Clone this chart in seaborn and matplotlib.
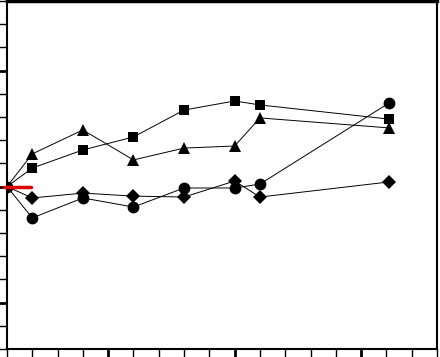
import matplotlib
matplotlib.use("Agg")
import matplotlib.pyplot as plt
import seaborn as sns
import pandas as pd

x_pos = [0, 1, 3, 5, 7, 9, 10, 15.1]
square = [7.0, 7.80, 8.58, 9.14, 10.30, 10.69, 10.52, 9.91]
triangle = [7.0, 8.41, 9.44, 8.15, 8.66, 8.75, 9.96, 9.53]
circle = [7.0, 5.65, 6.51, 6.12, 6.94, 6.94, 7.11, 10.60]
diamond = [7.0, 6.51, 6.72, 6.59, 6.55, 7.24, 6.55, 7.20]
red_x = [-0.1, 0.95]
red_y = [7.0, 7.0]

sns.set_style("ticks")
fig = plt.figure(figsize=(4.4, 3.57), dpi=100)
ax = fig.add_axes([7/440, 8/357, 430/440, 348/357])

series = [
    ("square", square, "s", 7.5),
    ("triangle", triangle, "^", 9),
    ("diamond", diamond, "D", 7),
    ("circle", circle, "o", 8.5),
]
for name, vals, mk, ms in series:
    df = pd.DataFrame({"x": x_pos, "y": vals})
    me = None if name == "circle" else list(range(1, len(x_pos)))
    sns.lineplot(data=df, x="x", y="y", ax=ax, color="black", linewidth=0.7,
                 marker=mk, markersize=ms, markeredgewidth=0, markevery=me,
                 sort=False, zorder=3)

ax.plot(red_x, red_y, color="#e00000", linewidth=2.5, clip_on=False, zorder=4)

ax.set_xlim(0, 17)
ax.set_ylim(0, 15)
ax.set_xlabel("")
ax.set_ylabel("")
ax.set_xticks([4, 9, 14])
ax.set_xticks(range(0, 18), minor=True)
ax.set_yticks([2, 7, 12])
ax.set_yticks(range(0, 16), minor=True)
ax.set_xticklabels([])
ax.set_yticklabels([])
ax.tick_params(which="major", direction="out", length=6, width=2, color="black")
ax.tick_params(which="minor", direction="out", length=6, width=1, color="black")
for side in ["left", "right", "bottom"]:
    ax.spines[side].set_visible(True)
    ax.spines[side].set_linewidth(1.5)
    ax.spines[side].set_color("black")
ax.spines["top"].set_visible(True)
ax.spines["top"].set_linewidth(2.5)
ax.spines["top"].set_color("black")
if ax.get_legend():
    ax.get_legend().remove()

fig.savefig("out.png", dpi=100)
